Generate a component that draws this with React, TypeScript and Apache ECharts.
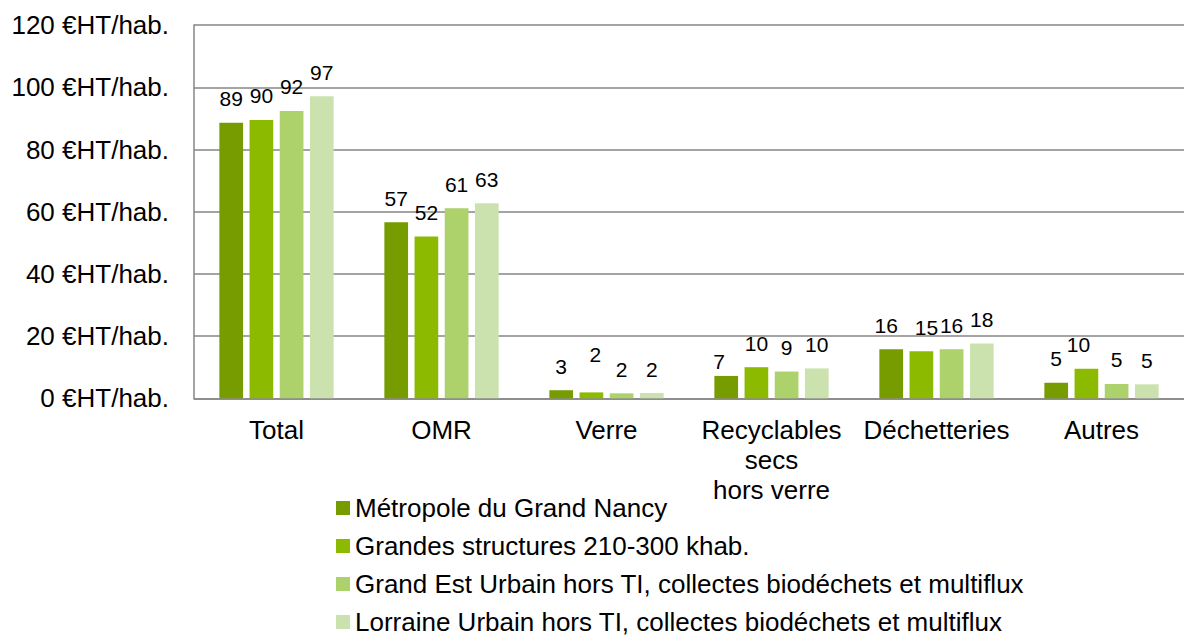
import React, { useEffect, useRef } from "react";
import * as echarts from "echarts";

const categories = ["Total", "OMR", "Verre", "Recyclables\nsecs\nhors verre", "Déchetteries", "Autres"];
const seriesNames = [
  "Métropole du Grand Nancy",
  "Grandes structures 210-300 khab.",
  "Grand Est Urbain hors TI, collectes biodéchets et multiflux",
  "Lorraine Urbain hors TI, collectes biodéchets et multiflux",
];
const metropole = [88.6, 56.6, 2.6, 7.2, 15.8, 5.0];
const grandesStructures = [89.5, 52.0, 1.9, 10.0, 15.1, 9.5];
const grandEst = [92.4, 61.1, 1.6, 8.6, 15.8, 4.6];
const lorraine = [97.1, 62.7, 1.7, 9.6, 17.6, 4.5];
const yTicks = { min: 0, max: 120, interval: 20 };
const unit = "€HT/hab.";

const colors = ["#779c00", "#8cba00", "#add16b", "#cce2ae"];
// label nudges (style only): [seriesIndex, categoryIndex, dx, dy]
const labelNudges: [number, number, number, number][] = [
  [1, 2, 4, -14],
  [0, 3, -7, 10],
  [0, 4, -5, 0],
  [1, 4, 5, 0],
  [1, 5, -8, 0],
];

const FONT = "'Liberation Sans', Arial, sans-serif";

export default function App() {
  const ref = useRef<HTMLDivElement>(null);
  useEffect(() => {
    if (!ref.current) return;
    const chart = echarts.init(ref.current, undefined, { renderer: "svg" });
    const allData = [metropole, grandesStructures, grandEst, lorraine];
    const series = allData.map((arr, si) => ({
      name: seriesNames[si],
      type: "bar",
      barWidth: 23.7,
      barGap: "27.4%",
      itemStyle: { color: colors[si] },
      label: {
        show: true,
        position: "top",
        distance: 13.5,
        color: "#000",
        fontSize: 21,
        fontFamily: FONT,
        formatter: (p: any) => String(Math.round(p.value)),
      },
      data: arr.map((v, ci) => {
        const n = labelNudges.find((x) => x[0] === si && x[1] === ci);
        return n ? { value: v, label: { offset: [n[2], n[3]] } } : v;
      }),
    }));
    chart.setOption({
      animation: false,
      textStyle: { fontFamily: FONT },
      grid: { left: 194, top: 25.1, width: 998.6, bottom: 238.7, containLabel: false },
      xAxis: {
        type: "category",
        data: categories,
        axisLine: { show: true, lineStyle: { color: "#868686", width: 1.5 } },
        axisTick: { show: false },
        axisLabel: {
          color: "#000",
          fontSize: 26,
          lineHeight: 30,
          margin: 17,
          fontFamily: FONT,
          interval: 0,
        },
      },
      yAxis: {
        type: "value",
        min: yTicks.min,
        max: yTicks.max,
        interval: yTicks.interval,
        axisLine: { show: true, lineStyle: { color: "#868686", width: 1.5 } },
        axisTick: { show: false },
        splitLine: { show: true, lineStyle: { color: "#868686", width: 1.5 } },
        axisLabel: {
          color: "#000",
          fontSize: 26,
          margin: 25,
          fontFamily: FONT,
          formatter: (v: number) => `${v} ${unit}`,
        },
      },
      legend: {
        orient: "vertical",
        left: 336,
        top: 495,
        width: 800,
        height: 220,
        padding: 0,
        itemWidth: 14,
        itemHeight: 14,
        itemGap: 12,
        icon: "rect",
        textStyle: { color: "#000", fontSize: 26, fontFamily: FONT },
        data: seriesNames,
      },
      series,
    });
    return () => chart.dispose();
  }, []);
  return (
    <div
      ref={ref}
      style={{ position: "absolute", left: 0, top: 0, width: 1184, height: 637 }}
    />
  );
}
